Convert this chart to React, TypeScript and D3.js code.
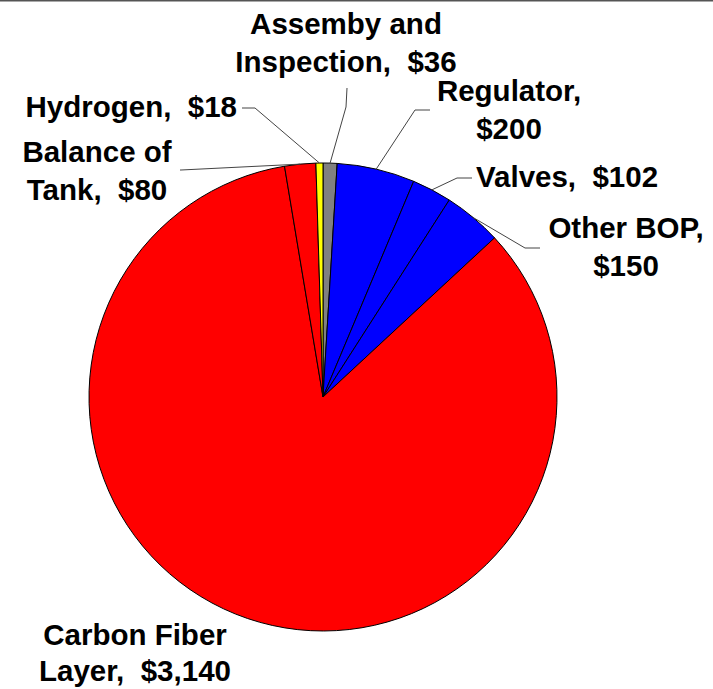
import React from "react";
import * as d3 from "d3";

const categories = ["Assemby and Inspection", "Regulator", "Valves", "Other BOP", "Carbon Fiber Layer", "Balance of Tank", "Hydrogen"];
const values = [36, 200, 102, 150, 3140, 80, 18];
const sliceColors = ["#808080", "#0000FF", "#0000FF", "#0000FF", "#FF0000", "#FF0000", "#FFFF00"];
const labelLines = [
  ["Assemby and", "Inspection,  $36"],
  ["Regulator,", "$200"],
  ["Valves,  $102"],
  ["Other BOP,", "$150"],
  ["Carbon Fiber", "Layer,  $3,140"],
  ["Balance of", "Tank,  $80"],
  ["Hydrogen,  $18"],
];

// layout: label anchor (x, first baseline, anchor, line step) and leader line points (start, elbow)
const labelLayout = [
  { x: 346, y: 34, anchor: "middle", step: 38, leader: [[347, 88], [346, 107]] },
  { x: 509, y: 101, anchor: "middle", step: 38, leader: [[430, 110], [415, 110]] },
  { x: 476, y: 187, anchor: "start", step: 38, leader: [[472, 178], [457, 178]] },
  { x: 626, y: 238, anchor: "middle", step: 38, leader: [[540, 248], [525, 248]] },
  { x: 135, y: 645, anchor: "middle", step: 36, leader: null },
  { x: 97, y: 162, anchor: "middle", step: 38, leader: [[180, 170], [181, 170]] },
  { x: 237, y: 117, anchor: "end", step: 38, leader: [[242, 108], [255, 108]] },
];

const W = 713;
const H = 689;
const cx = 323;
const cy = 397;
const R = 234;

export default function App() {
  const pie = d3.pie<number>().sort(null).value((d) => d).startAngle(0).endAngle(2 * Math.PI);
  const arcs = pie(values);
  const arcGen = d3.arc<d3.PieArcDatum<number>>().innerRadius(0).outerRadius(R);
  const line = d3.line();

  return (
    <svg width={W} height={H} style={{ position: "absolute", left: 0, top: 0, background: "#fff" }}>
      <rect x={0} y={0} width={W} height={H} fill="#fff" />
      <line x1={0} x2={W} y1={0.5} y2={0.5} stroke="#555" strokeWidth={2} />
      <g transform={`translate(${cx},${cy})`}>
        {arcs.map((a, i) => (
          <path key={categories[i]} d={arcGen(a) || ""} fill={sliceColors[i]} stroke="#000" strokeWidth={1} />
        ))}
      </g>
      {arcs.map((a, i) => {
        const L = labelLayout[i];
        if (!L.leader) return null;
        const mid = (a.startAngle + a.endAngle) / 2;
        const px = cx + R * Math.sin(mid);
        const py = cy - R * Math.cos(mid);
        const pts: [number, number][] = [L.leader[0] as [number, number], L.leader[1] as [number, number], [px, py]];
        return <path key={"l" + i} d={line(pts) || ""} fill="none" stroke="#444" strokeWidth={1} />;
      })}
      {labelLines.map((lines, i) => {
        const L = labelLayout[i];
        return (
          <text
            key={"t" + i}
            x={L.x}
            y={L.y}
            textAnchor={L.anchor as any}
            fontFamily="'Liberation Sans', Arial, sans-serif"
            fontWeight="bold"
            fontSize={29.5}
            fill="#000"
            style={{ whiteSpace: "pre" }}
          >
            {lines.map((s, j) => (
              <tspan key={j} x={L.x} dy={j === 0 ? 0 : L.step}>
                {s}
              </tspan>
            ))}
          </text>
        );
      })}
    </svg>
  );
}
